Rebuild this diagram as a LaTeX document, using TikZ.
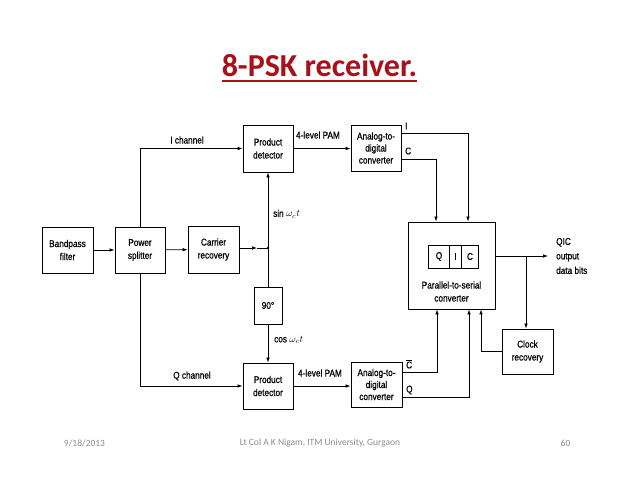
\documentclass[tikz,border=0pt]{standalone}
\usepackage{fontspec}
\setmainfont{Liberation Sans}
\newfontfamily\carlito{Carlito}
\newfontfamily\diag[FakeStretch=0.84, FakeBold=0.6]{Liberation Sans}
\usetikzlibrary{arrows.meta}
\definecolor{titlered}{RGB}{170,16,26}
\definecolor{footgray}{RGB}{140,140,140}
\begin{document}
\begin{tikzpicture}[x=1pt,y=-1pt,
  blk/.style={draw, line width=0.8pt, inner sep=0pt, align=center, font=\diag\fontsize{9.8}{13}\selectfont},
  lbl/.style={inner sep=0pt, font=\diag\fontsize{9.8}{13}\selectfont},
  wire/.style={line width=0.7pt},
  arr/.style={wire, -{Latex[length=5pt,width=3.6pt]}},
  foot/.style={inner sep=0pt, font=\carlito\fontsize{9.5}{11}\selectfont, text=footgray}]
\useasboundingbox (0,0) rectangle (638,493);
% title
\node[inner sep=0pt, font=\carlito\bfseries\fontsize{32}{34}\selectfont, text=titlered] (title) at (319.5,65) {8-PSK receiver.};
\draw[titlered, line width=1.8pt] ([yshift=-5pt]title.base west) -- ([yshift=-5pt]title.base east);
% blocks
\node[blk, minimum width=51pt, minimum height=46pt] (bpf) at (67.5,250) {Bandpass\\filter};
\node[blk, minimum width=50pt, minimum height=46pt] (ps) at (140,250) {Power\\splitter};
\node[blk, minimum width=51pt, minimum height=47pt] (cr) at (213.5,249.5) {Carrier\\recovery};
\node[blk, minimum width=50pt, minimum height=47pt] (pd1) at (268,148.5) {Product\\detector};
\node[blk, minimum width=50pt, minimum height=46pt, font=\diag\fontsize{9.8}{12}\selectfont] (adc1) at (376,148) {Analog-to-\\digital\\converter};
\node[blk, minimum width=28pt, minimum height=37pt] (ninety) at (268,305.5) {90\textdegree};
\node[blk, minimum width=50pt, minimum height=46pt] (pd2) at (268,386) {Product\\detector};
\node[blk, minimum width=51pt, minimum height=45pt, font=\diag\fontsize{9.8}{12}\selectfont] (adc2) at (376.5,384.5) {Analog-to-\\digital\\converter};
\node[blk, minimum width=87pt, minimum height=87pt] (p2s) at (451.5,265.5) {};
\node[lbl, align=center] (p2stext) at (451.5,291.5) {Parallel-to-serial\\converter};
\node[blk, minimum width=21pt, minimum height=23pt] (cq) at (439,256.5) {Q};
\node[blk, minimum width=12pt, minimum height=23pt] (ci) at (455.5,256.5) {I};
\node[blk, minimum width=17pt, minimum height=23pt] (cc) at (470,256.5) {C};
\node[blk, minimum width=51pt, minimum height=45pt] (clk) at (527.5,351.5) {Clock\\recovery};
% junctions
\coordinate (j) at (268,248);
\coordinate (jm) at (257,248);
\coordinate (out) at (548,256);
\coordinate (br) at (526,256);
% connectors
\draw[arr] (bpf) -- (ps);
\draw[arr] (ps) -- (cr);
\draw[arr] (ps.north) |- (pd1.west);
\draw[arr] (ps.south) |- (pd2.west);
\draw[arr] (cr.east |- j) -- (jm);
\draw[wire] (jm) -- (j);
\fill (j) circle (1.3pt);
\draw[arr] (j) -- (pd1.south);
\draw[wire] (j) -- (ninety.north);
\draw[arr] (ninety.south) -- (pd2.north);
\draw[arr] (pd1.east) -- (pd1.east -| adc1.west);
\draw[arr] (pd2.east) -- (pd2.east -| adc2.west);
\draw[arr] ([yshift=15pt]adc1.east) -| ([xshift=16.5pt]p2s.north);
\draw[arr] ([yshift=-11pt]adc1.east) -| ([xshift=-15.5pt]p2s.north);
\draw[arr] ([yshift=12.5pt]adc2.east) -| ([xshift=-14.5pt]p2s.south);
\draw[arr] ([yshift=-12.5pt]adc2.east) -| ([xshift=17.5pt]p2s.south);
\draw[arr] ([yshift=9.5pt]p2s.east) -- (out);
\draw[arr] (br) -- (br |- clk.north);
\draw[arr] (clk.west) -| ([xshift=29.5pt]p2s.south);
% labels
\node[lbl] (lich) at (187,140) {I channel};
\node[lbl] (lqch) at (192,376) {Q channel};
\node[lbl] (lpam1) at (318,135) {4-level PAM};
\node[lbl] (lpam2) at (320,373) {4-level PAM};
\node[lbl, anchor=west] (lsin) at (273,214) {sin $\omega_{c}t$};
\node[lbl, anchor=west] (lcos) at (274,340) {cos $\omega_{c}t$};
\node[lbl, anchor=west] (li) at (405,126) {I};
\node[lbl, anchor=west] (lc) at (405,151) {C};
\node[lbl, anchor=west] (lcb) at (406,364) {$\overline{\hbox{C}}$};
\node[lbl, anchor=west] (lq) at (406,390) {Q};
\node[lbl, anchor=west, align=left, font=\diag\fontsize{9.8}{14.5}\selectfont] (lout) at (556,256) {QIC\\output\\data bits};
% footer
\node[foot] (fdate) at (84.5,443) {9/18/2013};
\node[foot] (fauth) at (320,443) {Lt Col A K Nigam, ITM University, Gurgaon};
\node[foot] (fpage) at (565.5,443) {60};
\end{tikzpicture}
\end{document}
